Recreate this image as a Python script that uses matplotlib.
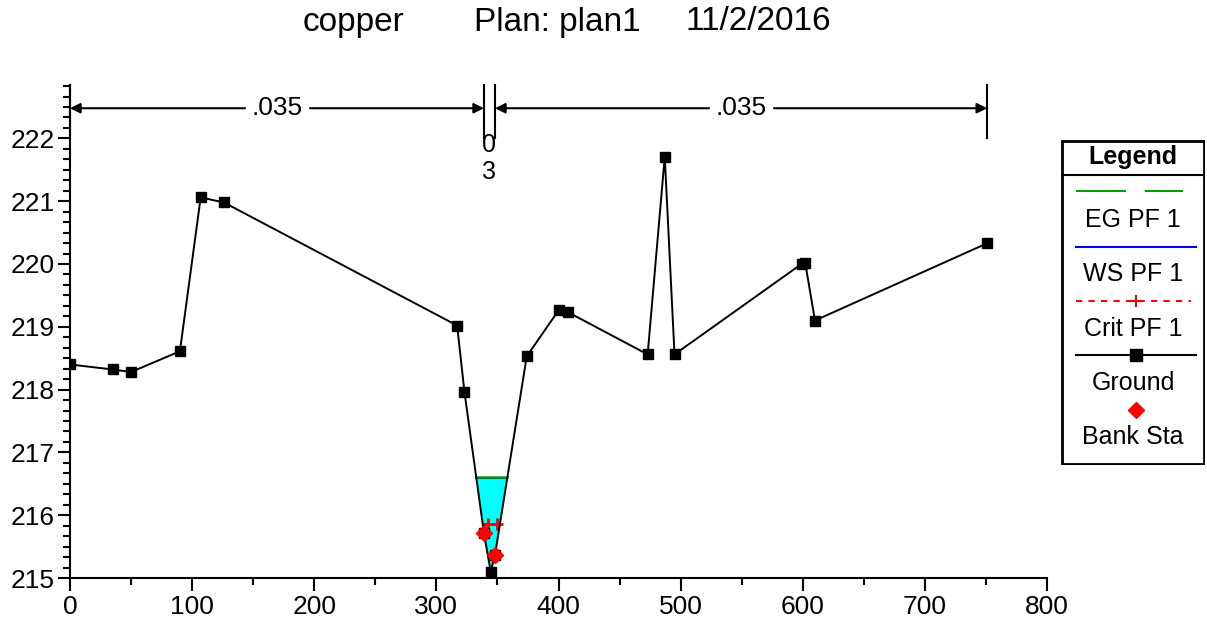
import numpy as np
import matplotlib
matplotlib.use("Agg")
import matplotlib.pyplot as plt
from matplotlib.ticker import MultipleLocator, AutoMinorLocator
from matplotlib.patches import Rectangle

plt.rcParams['font.family'] = ['Liberation Sans', 'DejaVu Sans']

# -----------------------
# cross section data
# -----------------------
station = [0, 35, 50, 90, 107, 126, 317, 323, 339, 344.5, 348, 374,
           400, 408, 473, 487, 495, 599, 602, 610, 751]
elev = [218.40, 218.32, 218.28, 218.61, 221.06, 220.98, 219.02, 217.96,
        215.71, 215.10, 215.37, 218.53, 219.26, 219.23, 218.56, 221.71,
        218.56, 220.00, 220.02, 219.10, 220.33]

bank_sta = [339, 348]
ws_elev = 216.59
eg_elev = 216.61
crit_elev = 215.86

mann_sta = [0, 339, 348, 751]
mann_n = [".035", "0\n3", ".035"]

title_parts = ["copper", "Plan: plan1", "11/2/2016"]
legend_labels = ["EG PF 1", "WS PF 1", "Crit PF 1", "Ground", "Bank Sta"]

x = np.array(station, dtype=float)
z = np.array(elev, dtype=float)


def wet_limits(level):
    # left/right crossing of a level with the ground around the thalweg
    i_min = int(np.argmin(z))
    i = i_min
    while i > 0 and z[i - 1] < level:
        i -= 1
    j = i_min
    while j < len(z) - 1 and z[j + 1] < level:
        j += 1
    xl = np.interp(level, [z[i], z[i - 1]], [x[i], x[i - 1]])
    xr = np.interp(level, [z[j], z[j + 1]], [x[j], x[j + 1]])
    return xl, xr


W, H = 1207, 625
fig = plt.figure(figsize=(W / 100, H / 100), dpi=100)
ax = fig.add_axes([70 / W, 1 - 578 / H, (1047 - 70) / W, (578 - 85) / H])

# water fill
xl, xr = wet_limits(ws_elev)
xf = np.concatenate([[xl], x[(x > xl) & (x < xr)], [xr]])
zf = np.interp(xf, x, z)
ax.fill_between(xf, zf, ws_elev, color="#00ffff", lw=0, zorder=1)
ax.plot([xl, xr], [ws_elev, ws_elev], color="blue", lw=1.5, zorder=2)
el, er = wet_limits(eg_elev)
ax.plot([el, er], [eg_elev, eg_elev], color="#00a000", lw=1.8, zorder=3)
cl, cr = wet_limits(crit_elev)
ax.plot([cl, cr], [crit_elev, crit_elev], color="red", lw=1.5, ls=(0, (3, 2)), zorder=4)
ax.plot([cl + 4, cr - 2], [crit_elev, crit_elev], ls="none", marker="+",
        color="red", ms=9, mew=2, zorder=4)

# ground
ax.plot(x, z, color="black", lw=1.4, marker="s", ms=7, zorder=5)
ax.plot(bank_sta, np.interp(bank_sta, x, z), ls="none", marker="D",
        color="red", ms=8, zorder=6)

ax.set_xlim(0, 800)
ax.set_ylim(215, 222.85)
ax.xaxis.set_major_locator(MultipleLocator(100))
ax.xaxis.set_minor_locator(MultipleLocator(50))
ax.yaxis.set_major_locator(MultipleLocator(1))
ax.yaxis.set_minor_locator(AutoMinorLocator(6))
ax.spines["top"].set_visible(False)
ax.spines["right"].set_visible(False)
ax.spines["left"].set_linewidth(1.5)
ax.spines["bottom"].set_linewidth(1.5)
ax.tick_params(axis="both", which="major", labelsize=19, length=9, width=1.5, direction="out")
ax.tick_params(axis="both", which="minor", length=5, width=1.5, direction="out")
ax.tick_params(axis="x", pad=3)
ax.tick_params(axis="y", pad=2)

# manning n annotation
arrow_y = 222.48
for s in mann_sta:
    ax.plot([s, s], [222.0, 222.85], color="black", lw=1.5, clip_on=False, zorder=7)
for k in range(3):
    a, b = mann_sta[k], mann_sta[k + 1]
    if b - a > 50:
        ax.annotate("", xy=(a, arrow_y), xytext=(b, arrow_y),
                    arrowprops=dict(arrowstyle="<|-|>", color="black", lw=1.5,
                                    shrinkA=0, shrinkB=0, mutation_scale=15))
        ax.text((a + b) / 2, arrow_y, mann_n[k], ha="center", va="center",
                fontsize=19, backgroundcolor="white", zorder=8)
    else:
        ax.text((a + b) / 2, 221.68, mann_n[k], ha="center", va="center",
                fontsize=18, linespacing=1.15, zorder=8)

# title
for txt, px in zip(title_parts, [303, 474, 686]):
    fig.text(px / W, 1 - 22 / H, txt, fontsize=24, ha="left", va="center")

# legend box
lx0, ly0, lw_, lh_ = 1061, 140, 144, 325
lax = fig.add_axes([lx0 / W, 1 - (ly0 + lh_) / H, lw_ / W, lh_ / H])
lax.set_xlim(0, lw_)
lax.set_ylim(lh_, 0)
lax.axis("off")
lax.add_patch(Rectangle((1, 1), lw_ - 2, lh_ - 2, fill=False, ec="black", lw=2))
lax.plot([1, lw_ - 1], [35, 35], color="black", lw=1.5)
lax.text(lw_ / 2, 17, "Legend", ha="center", va="center", fontsize=18, fontweight="bold")

lax.plot([15, 122], [51, 51], color="#00a000", lw=1.5, ls=(0, (24, 9)))
lax.plot([15, 135], [107, 107], color="blue", lw=1.5)
lax.plot([15, 130], [161, 161], color="red", lw=1.5, ls=(0, (3, 3)))
lax.plot([75], [161], marker="+", color="red", ms=9, mew=1.5)
lax.plot([15, 135], [215, 215], color="black", lw=1.5)
lax.plot([75], [215], marker="s", color="black", ms=8)
lax.plot([75], [270], marker="D", color="red", ms=8)
for lab, ty in zip(legend_labels, [80, 134, 189, 243, 297]):
    lax.text(lw_ / 2, ty, lab, ha="center", va="center", fontsize=18)

fig.savefig("out.png", dpi=100)
